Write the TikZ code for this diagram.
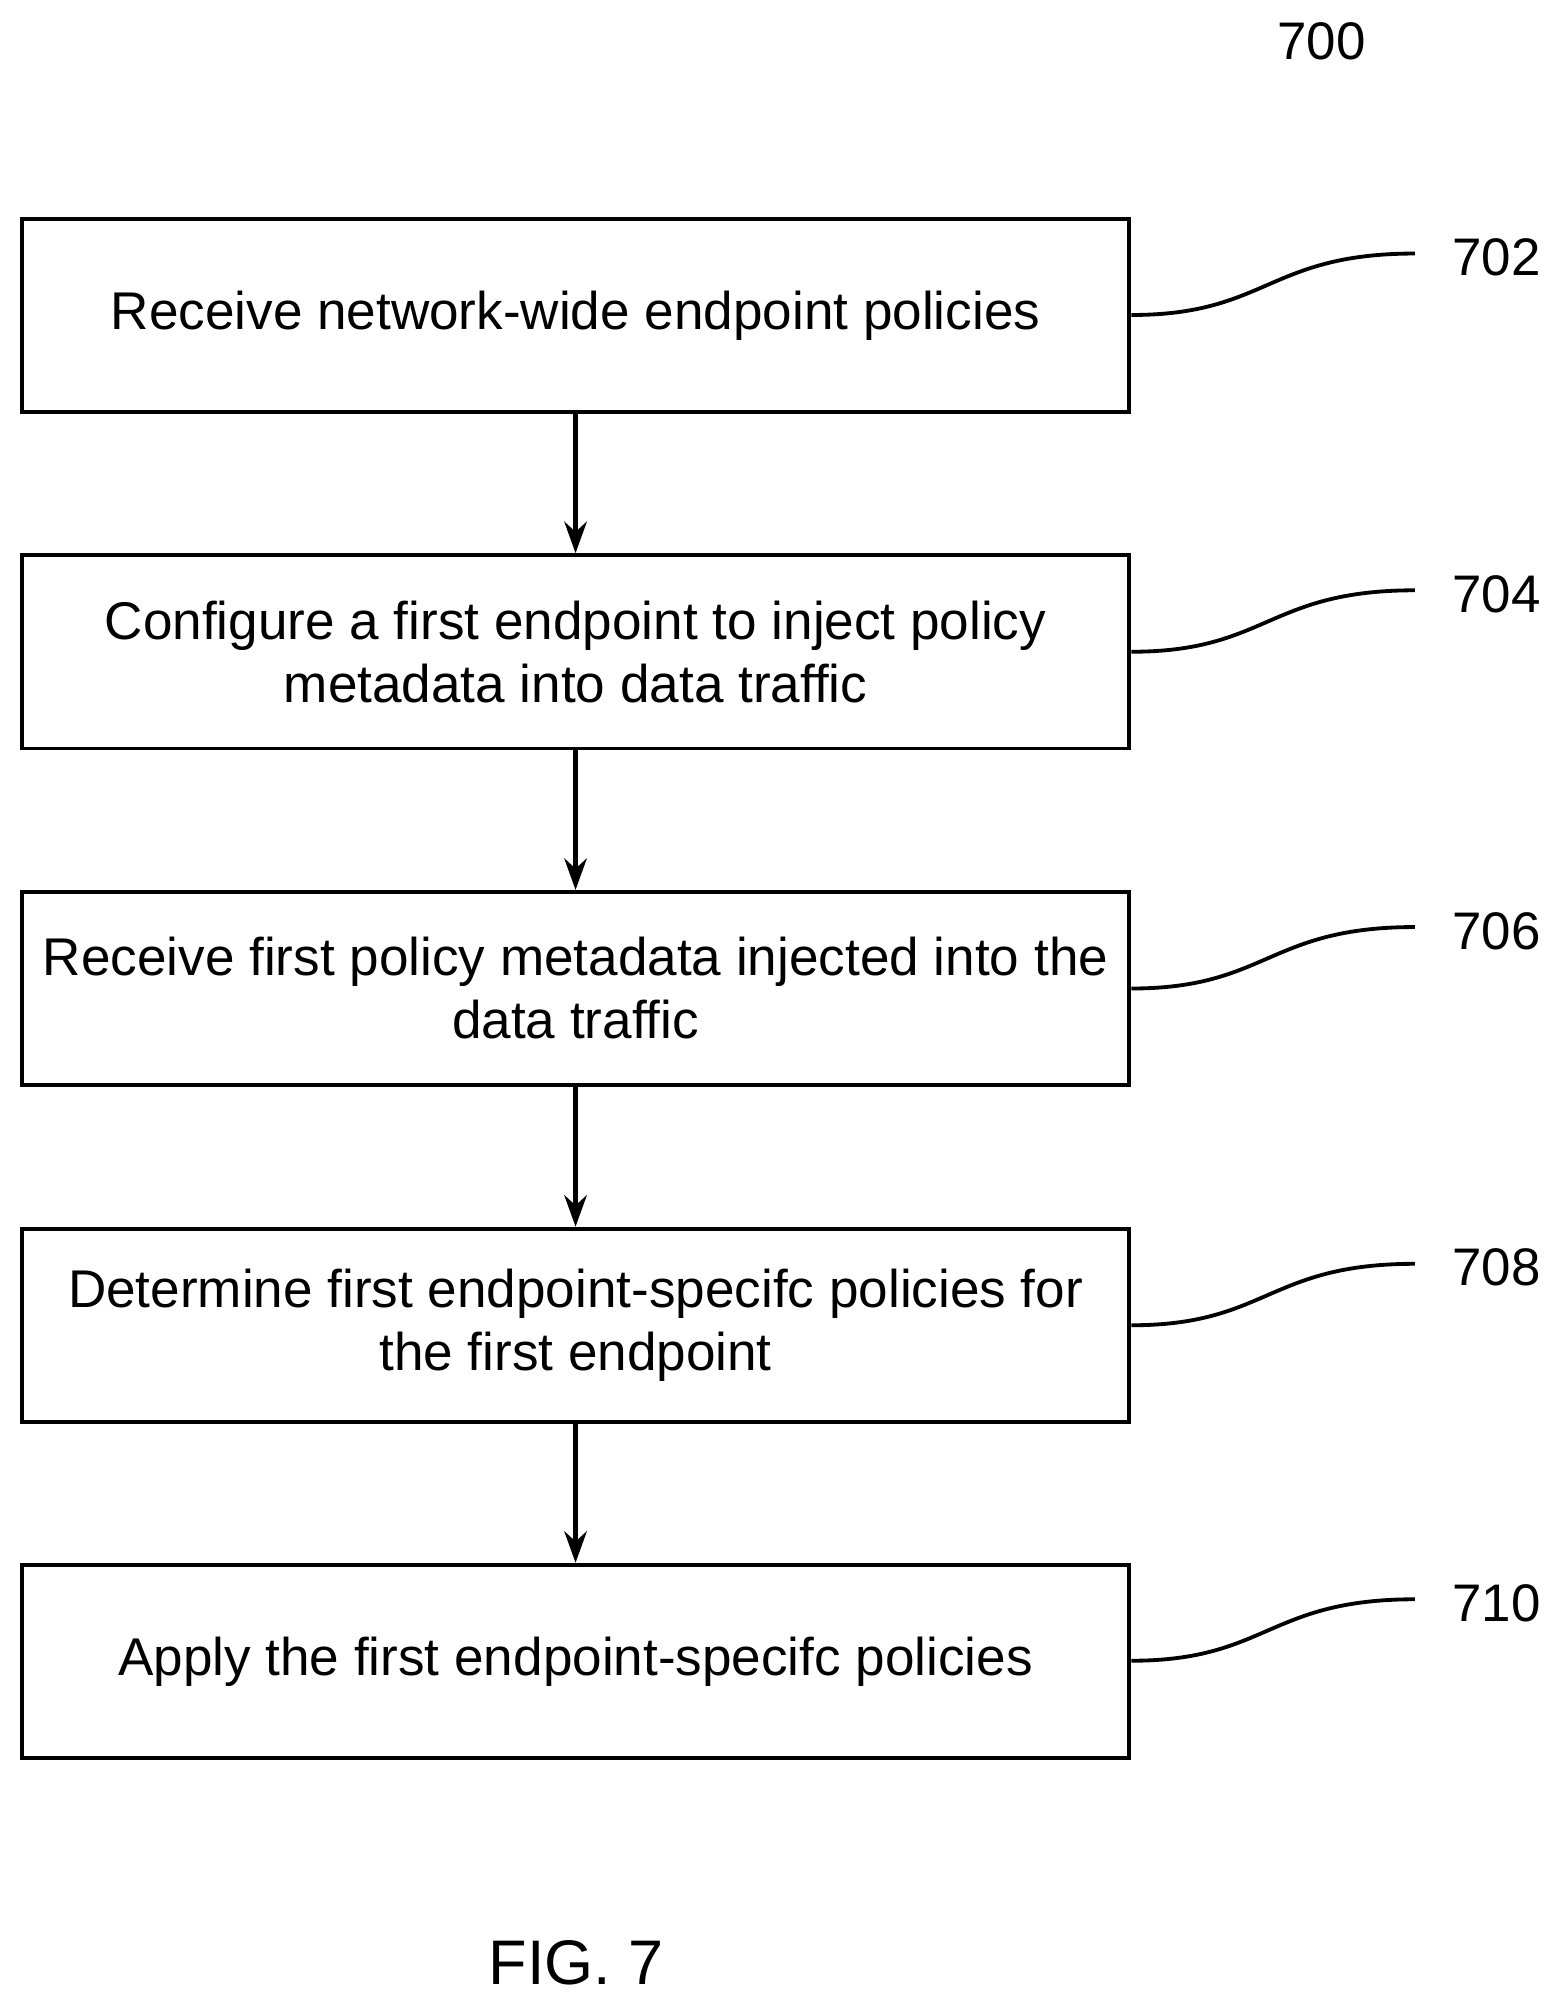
\documentclass[tikz,border=0pt]{standalone}
\usepackage{fontspec}
\setmainfont{Liberation Sans}
\usetikzlibrary{arrows.meta}
\begin{document}
\begin{tikzpicture}[x=0.02cm,y=-0.02cm,
  box/.style={draw,line width=1.7pt,minimum width=865*0.02cm,minimum height=151*0.02cm,align=center,font=\fontsize{23.6}{28}\selectfont,inner sep=0pt},
  arr/.style={line width=2pt,-{Stealth[length=14pt,width=10pt]}},
  lead/.style={line width=1.7pt},
  lab/.style={font=\fontsize{23.5}{27}\selectfont}]
\useasboundingbox (0,0) rectangle (1214,1569);
\node[lab] (n700) at (1032,32) {700};
\node[box] (b1) at (449.5,246.5) {Receive network-wide endpoint policies};
\node[box] (b2) at (449.5,509) {Configure a first endpoint to inject policy\\metadata into data traffic};
\node[box] (b3) at (449.5,772) {Receive first policy metadata injected into the\\data traffic};
\node[box] (b4) at (449.5,1035) {Determine first endpoint-specifc policies for\\the first endpoint};
\node[box] (b5) at (449.5,1297.5) {Apply the first endpoint-specifc policies};
\draw[arr] (b1) -- (b2);
\draw[arr] (b2) -- (b3);
\draw[arr] (b3) -- (b4);
\draw[arr] (b4) -- (b5);
\foreach \n/\y/\t in {1/246/702,2/509/704,3/772/706,4/1035/708,5/1297/710}{
  \coordinate (e\n) at (1105,\y-48);
  \node[lab,anchor=west] (l\n) at (1128,\y-45) {\t};
  \draw[lead] (b\n.east |- 0,\y) .. controls (990,\y) and (990,\y-48) .. (e\n);
}
\node[font=\fontsize{28}{32}\selectfont] (fig) at (450,1533) {FIG. 7};
\end{tikzpicture}
\end{document}
